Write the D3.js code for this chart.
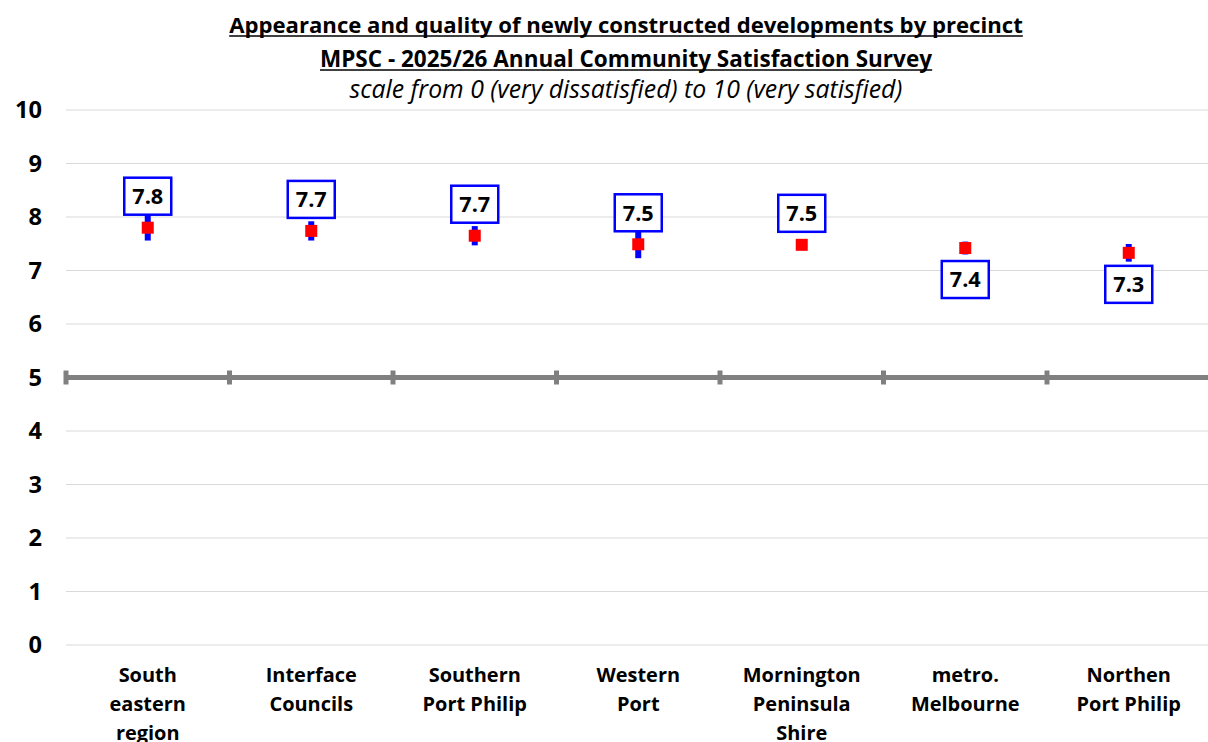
<!DOCTYPE html>
<html>
<head>
<meta charset="utf-8">
<script src="https://cdn.jsdelivr.net/npm/d3@7"></script>
<style>
  html, body { margin: 0; padding: 0; background: #fff; }
  svg { display: block; }
  text { font-family: "Open Sans", Lato, sans-serif; fill: #000; }
</style>
</head>
<body>
<svg id="chart" width="1208" height="742"></svg>
<script>
const categories = [
  ["South", "eastern", "region"],
  ["Interface", "Councils"],
  ["Southern", "Port Philip"],
  ["Western", "Port"],
  ["Mornington", "Peninsula", "Shire"],
  ["metro.", "Melbourne"],
  ["Northen", "Port Philip"]
];
const categoryKeys = categories.map(c => c.join(" "));
const means = [7.80, 7.74, 7.65, 7.49, 7.48, 7.42, 7.33];
const ciHalf = [0.24, 0.18, 0.18, 0.26, 0.0, 0.12, 0.165];
const valueLabels = ["7.8", "7.7", "7.7", "7.5", "7.5", "7.4", "7.3"];
const labelSide = ["above", "above", "above", "above", "above", "below", "below"];
const yTicks = [0, 1, 2, 3, 4, 5, 6, 7, 8, 9, 10];
const referenceValue = 5;
const titleLines = [
  "Appearance and quality of newly constructed developments by precinct",
  "MPSC - 2025/26 Annual Community Satisfaction Survey",
  "scale from 0 (very dissatisfied) to 10 (very satisfied)"
];

const svg = d3.select("#chart");
const W = 1208;
const x = d3.scaleBand().domain(categoryKeys).range([66, 1210.5]).padding(0);
const y = d3.scaleLinear().domain([0, 10]).range([645, 110]);

// size a text so that its rendered width matches a target width
function fitSize(sel, target) {
  sel.attr("font-size", 20);
  const len = sel.node().getComputedTextLength();
  const size = 20 * target / len;
  sel.attr("font-size", size);
  return size;
}

// gridlines
svg.append("g").selectAll("line").data(yTicks.filter(t => t !== referenceValue)).join("line")
  .attr("x1", 66).attr("x2", W)
  .attr("y1", d => y(d)).attr("y2", d => y(d))
  .attr("stroke", "#d9d9d9").attr("stroke-width", 1);

// y tick labels
const probeY = svg.append("text").attr("font-weight", 700).text("10");
const ySize = fitSize(probeY, 27);
probeY.remove();
svg.append("g").selectAll("text").data(yTicks).join("text")
  .attr("x", 42).attr("y", d => y(d))
  .attr("dy", "0.35em")
  .attr("text-anchor", "end")
  .attr("font-size", ySize).attr("font-weight", 700)
  .text(d => d);

// reference line at 5 with tick marks
const ref = svg.append("g");
ref.append("line")
  .attr("x1", 66).attr("x2", W)
  .attr("y1", y(referenceValue)).attr("y2", y(referenceValue))
  .attr("stroke", "#808080").attr("stroke-width", 5);
const boundaries = categoryKeys.map(k => x(k));
ref.selectAll("line.tick").data(boundaries).join("line")
  .attr("class", "tick")
  .attr("x1", d => d).attr("x2", d => d)
  .attr("y1", y(referenceValue) - 7).attr("y2", y(referenceValue) + 7)
  .attr("stroke", "#808080").attr("stroke-width", 5);

// title
const tg = svg.append("g");
const titleY = [33, 67, 98];
const titleWidths = [794, 612, 553];
titleLines.forEach((t, i) => {
  const txt = tg.append("text")
    .attr("x", 626).attr("y", titleY[i])
    .attr("text-anchor", "middle")
    .attr("font-weight", i < 2 ? 700 : 400)
    .attr("font-style", i === 2 ? "italic" : "normal")
    .text(t);
  fitSize(txt, titleWidths[i]);
  if (i < 2) {
    const bb = txt.node().getBBox();
    tg.append("line")
      .attr("x1", bb.x).attr("x2", bb.x + bb.width)
      .attr("y1", titleY[i] + 3).attr("y2", titleY[i] + 3)
      .attr("stroke", "#000").attr("stroke-width", 1.5);
  }
});

const cx = k => x(k) + x.bandwidth() / 2;

// error bars
svg.append("g").selectAll("line").data(categoryKeys).join("line")
  .attr("x1", k => cx(k)).attr("x2", k => cx(k))
  .attr("y1", (k, i) => y(means[i] + ciHalf[i]))
  .attr("y2", (k, i) => y(means[i] - ciHalf[i]))
  .attr("stroke", "#0000ff").attr("stroke-width", 6);

// markers
const ms = 12;
svg.append("g").selectAll("rect").data(categoryKeys).join("rect")
  .attr("x", k => cx(k) - ms / 2)
  .attr("y", (k, i) => y(means[i]) - ms / 2)
  .attr("width", ms).attr("height", ms)
  .attr("fill", "#ff0000");

// value label boxes
const probeV = svg.append("text").attr("font-weight", 700).text("7.8");
const vSize = fitSize(probeV, 31);
probeV.remove();
const bw = 47, bh = 37, off = 13;
const lg = svg.append("g").selectAll("g").data(categoryKeys).join("g")
  .attr("transform", (k, i) => {
    const top = labelSide[i] === "above" ? y(means[i]) - off - bh : y(means[i]) + off;
    return `translate(${cx(k) - bw / 2},${top})`;
  });
lg.append("rect")
  .attr("width", bw).attr("height", bh)
  .attr("fill", "#fff").attr("stroke", "#0000ff").attr("stroke-width", 2.5);
lg.append("text")
  .attr("x", bw / 2).attr("y", bh / 2)
  .attr("dy", "0.36em")
  .attr("text-anchor", "middle")
  .attr("font-size", vSize).attr("font-weight", 700)
  .text((k, i) => valueLabels[i]);

// category labels
const probeC = svg.append("text").attr("font-weight", 700).text("Mornington");
const cSize = fitSize(probeC, 118);
probeC.remove();
const cg = svg.append("g").selectAll("text").data(categories).join("text")
  .attr("x", (c, i) => cx(categoryKeys[i]))
  .attr("y", 682)
  .attr("text-anchor", "middle")
  .attr("font-size", cSize).attr("font-weight", 700);
cg.selectAll("tspan").data(c => c).join("tspan")
  .attr("x", function () { return this.parentNode.getAttribute("x"); })
  .attr("dy", (d, j) => j === 0 ? 0 : 29)
  .text(d => d);
</script>
</body>
</html>
